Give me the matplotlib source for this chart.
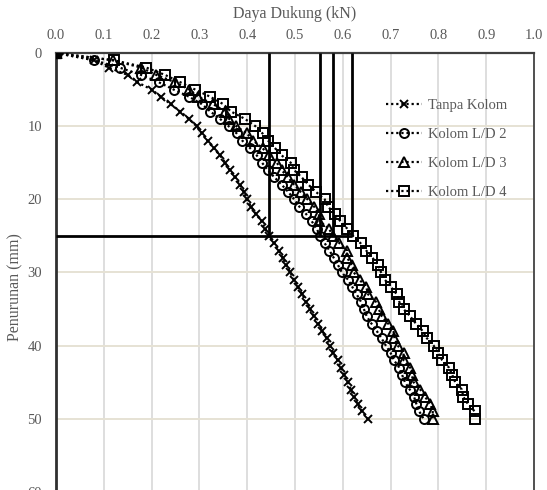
import numpy as np
import matplotlib.pyplot as plt

plt.rcParams['font.family'] = ['Liberation Serif', 'DejaVu Serif']

# settlement (mm), same steps for every series
penurunan = np.arange(0, 51)

# bearing capacity (kN) at each settlement step
tanpa_kolom = [0, 0.08, 0.11, 0.15, 0.17, 0.20, 0.22, 0.24, 0.26, 0.278,
               0.294, 0.305, 0.317, 0.33, 0.343, 0.354, 0.363, 0.375, 0.385, 0.393,
               0.399, 0.408, 0.418, 0.43, 0.438, 0.445, 0.457, 0.466, 0.474, 0.482,
               0.49, 0.498, 0.506, 0.515, 0.523, 0.531, 0.539, 0.549, 0.557, 0.566,
               0.573, 0.58, 0.589, 0.596, 0.603, 0.61, 0.617, 0.624, 0.631, 0.64,
               0.652]
kolom_ld2 = [0, 0.08, 0.133, 0.178, 0.215, 0.246, 0.279, 0.305, 0.323, 0.343,
             0.361, 0.378, 0.39, 0.406, 0.42, 0.431, 0.443, 0.457, 0.472, 0.486,
             0.498, 0.509, 0.523, 0.535, 0.545, 0.553, 0.562, 0.572, 0.581, 0.59,
             0.598, 0.611, 0.62, 0.629, 0.638, 0.644, 0.65, 0.66, 0.671, 0.681,
             0.69, 0.7, 0.707, 0.718, 0.724, 0.73, 0.74, 0.749, 0.754, 0.76,
             0.769]
kolom_ld3 = [0, 0.119, 0.178, 0.21, 0.249, 0.279, 0.298, 0.329, 0.354, 0.362,
             0.377, 0.399, 0.413, 0.432, 0.445, 0.462, 0.472, 0.485, 0.498, 0.512,
             0.526, 0.54, 0.55, 0.551, 0.571, 0.579, 0.593, 0.609, 0.609, 0.619,
             0.623, 0.635, 0.649, 0.653, 0.669, 0.675, 0.682, 0.695, 0.706, 0.708,
             0.715, 0.727, 0.727, 0.741, 0.744, 0.748, 0.762, 0.772, 0.783, 0.788,
             0.788]
kolom_ld4 = [0, 0.121, 0.189, 0.228, 0.26, 0.291, 0.323, 0.35, 0.366, 0.395,
             0.417, 0.432, 0.444, 0.458, 0.472, 0.491, 0.498, 0.514, 0.528, 0.544,
             0.562, 0.569, 0.583, 0.595, 0.609, 0.621, 0.637, 0.649, 0.662, 0.674,
             0.68, 0.688, 0.701, 0.713, 0.718, 0.727, 0.741, 0.753, 0.767, 0.776,
             0.79, 0.799, 0.808, 0.822, 0.829, 0.835, 0.849, 0.852, 0.862, 0.876,
             0.876]

labels = ["Tanpa Kolom", "Kolom L/D 2", "Kolom L/D 3", "Kolom L/D 4"]
markers = ["x", "o", "^", "s"]

# capacity read at 25 mm settlement
s_ref = 25
q_ref = [0.445, 0.553, 0.58, 0.62]

grey = "#595959"

fig = plt.figure(figsize=(5.47, 4.90), dpi=100)
ax = fig.add_axes([0.1024, -0.004, 0.8739, 0.8959])

for q, lab, m in zip([tanpa_kolom, kolom_ld2, kolom_ld3, kolom_ld4], labels, markers):
    ax.plot(q, penurunan, color="black", ls=(0, (1, 1.3)), lw=1.6,
            marker=m, ms=6.5 if m != "x" else 5.5, mfc="none", mec="black", mew=1.4,
            label=lab, zorder=3)
# all series start from the origin
ax.plot(0, 0, marker="s", ms=7, color="black", zorder=5)

ax.vlines(q_ref, 0, s_ref, colors="black", lw=2, zorder=4)
ax.hlines(s_ref, 0, max(q_ref), colors="black", lw=2, zorder=4)

ax.set_xlim(0, 1.0)
ax.set_ylim(60, 0)
ax.set_xticks(np.arange(0, 1.01, 0.1))
ax.set_yticks(np.arange(0, 61, 10))
ax.xaxis.set_major_formatter(plt.FormatStrFormatter("%.1f"))
ax.xaxis.tick_top()
ax.xaxis.set_label_position("top")
ax.tick_params(length=0, labelsize=10.5, labelcolor=grey)
ax.tick_params(axis="x", pad=8)
ax.tick_params(axis="y", pad=10)

ax.set_xlabel("Daya Dukung (kN)", fontsize=11.5, color=grey, labelpad=8)
ax.set_ylabel("Penurunan (mm)", fontsize=11.5, color=grey)
ax.yaxis.set_label_coords(-0.068, 0.467)

ax.grid(False)
for x in np.arange(0.1, 1.0, 0.1):
    ax.axvline(x, color="#dedede", lw=1.4, zorder=0)
for y in np.arange(10, 60, 10):
    ax.axhline(y, color="#e6e2d4", lw=1.4, zorder=0)

ax.spines["top"].set_color("#404040")
ax.spines["top"].set_linewidth(1.6)
ax.spines["left"].set_color("#303030")
ax.spines["left"].set_linewidth(2)
ax.spines["right"].set_color("#505050")
ax.spines["right"].set_linewidth(1.4)
ax.spines["bottom"].set_visible(False)

leg = ax.legend(loc="upper left", bbox_to_anchor=(0.69, 0.895), frameon=False,
                fontsize=10.5, labelspacing=1.08, handlelength=2.5, handletextpad=0.4,
                numpoints=1, borderpad=0, borderaxespad=0)
for t in leg.get_texts():
    t.set_color(grey)

fig.savefig("out.png", dpi=100)
